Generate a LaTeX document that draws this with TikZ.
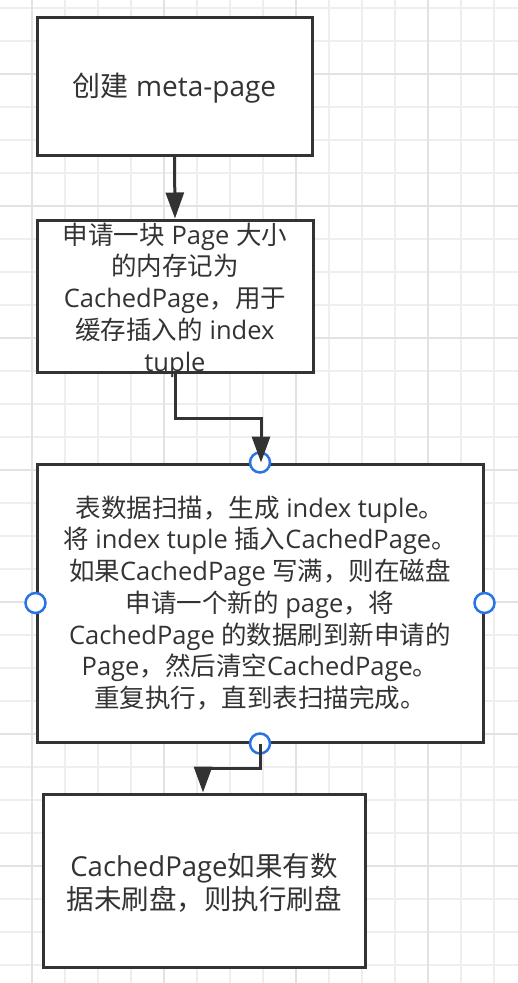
\documentclass[tikz,border=0pt]{standalone}
\usepackage{fontspec}
\setmainfont{Open Sans}
\newfontfamily\cjkfont{Noto Sans CJK SC}
\newcommand\zh[1]{{\cjkfont #1}}
\usetikzlibrary{arrows.meta}
\definecolor{gridl}{HTML}{EEEEEE}
\definecolor{gridd}{HTML}{E2E2E2}
\definecolor{ink}{HTML}{333333}
\definecolor{handle}{RGB}{40,115,230}
\tikzset{
  boxshape/.style={draw=ink, line width=3pt, fill=white, rectangle, inner sep=0pt},
  boxtext/.style={text=ink, align=center, inner sep=0pt, font=\fontsize{25.5}{31.7}\selectfont},
  bigtext/.style={boxtext, font=\fontsize{27.5}{33}\selectfont},
  conn/.style={draw=ink, line width=3pt, -{Triangle[width=18pt,length=26pt]}},
  handledot/.style={circle, draw=handle, line width=2.5pt, fill=white, minimum size=20pt, inner sep=0pt},
}
\begin{document}
\begin{tikzpicture}[x=1pt,y=-1pt]
\useasboundingbox (0,0) rectangle (518,983);
\fill[white] (0,0) rectangle (518,983);
% grid
\foreach \x in {32,65,...,494} \draw[gridl, line width=1.5pt] (\x,0) -- (\x,983);
\foreach \y in {8,41,...,983} \draw[gridl, line width=1.5pt] (0,\y) -- (518,\y);
\foreach \x in {32,164,...,494} \draw[gridd, line width=1.5pt] (\x,0) -- (\x,983);
\foreach \y in {74,206,...,983} \draw[gridd, line width=1.5pt] (0,\y) -- (518,\y);
% boxes
\node[boxshape, minimum width=275pt, minimum height=138pt] (b1) at (174.5,86) {};
\node[boxshape, minimum width=276pt, minimum height=152pt] (b2) at (175,296) {};
\node[boxshape, minimum width=446pt, minimum height=278pt] (b3) at (260,603) {};
\node[boxshape, minimum width=322pt, minimum height=173pt] (b4) at (204,880.5) {};
% texts
\node[bigtext, font=\fontsize{28}{33}\selectfont] (t1) at ([yshift=-2pt]b1.center) {\zh{创建} meta-page};
\node[boxtext] (t2) at ([yshift=-4pt]b2.center) {\zh{申请一块} Page \zh{大小}\\\zh{的内存记为}\\CachedPage\zh{，用于}\\\zh{缓存插入的} index\\tuple};
\node[boxtext] (t3) at (b3.center) {\zh{表数据扫描，生成} index tuple\zh{。}\\\zh{将} index tuple \zh{插入}CachedPage\zh{。}\\\zh{如果}CachedPage \zh{写满，则在磁盘}\\\zh{申请一个新的} page\zh{，将}\\CachedPage \zh{的数据刷到新申请的}\\Page\zh{，然后清空}CachedPage\zh{。}\\\zh{重复执行，直到表扫描完成。}};
\node[bigtext] (t4) at ([yshift=-2pt]b4.center) {CachedPage\zh{如果有数}\\\zh{据未刷盘，则执行刷盘}};
% handles
\node[handledot] (hn) at (b3.north) {};
\node[handledot] (hs) at (b3.south) {};
\node[handledot] (hw) at (b3.west) {};
\node[handledot] (he) at (b3.east) {};
% connectors
\coordinate (k1) at (175,418);
\coordinate (k2) at (261,418);
\coordinate (k3) at (260,768);
\coordinate (k4) at (203,768);
\draw[conn] (b1.south) -- (b2.north);
\draw[conn] (b2.south) -- (k1) -- (k2) -- (k2 |- b3.north);
\draw[conn] (b3.south) -- (k3) -- (k4) -- (k4 |- b4.north);
\end{tikzpicture}
\end{document}
